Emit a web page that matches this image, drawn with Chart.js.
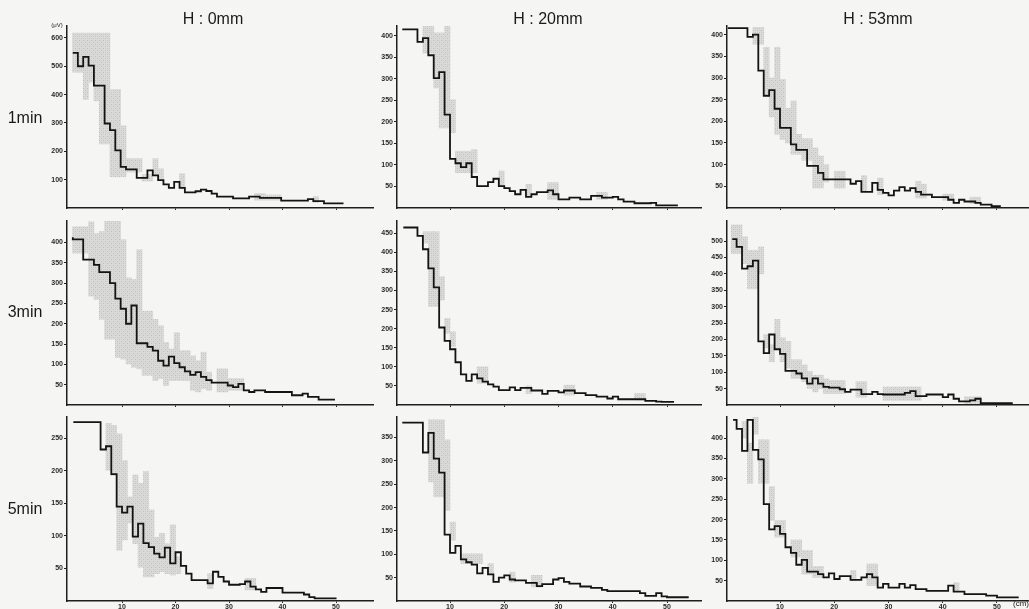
<!DOCTYPE html>
<html><head><meta charset="utf-8">
<script src="https://cdn.jsdelivr.net/npm/chart.js@4.4.0/dist/chart.umd.min.js"></script>
<style>
html,body{margin:0;padding:0;}
body{background:#f5f5f4;width:1029px;height:609px;overflow:hidden;position:relative;font-family:'Liberation Sans',Arial,sans-serif;color:#1a1a1a;}
canvas{position:absolute;}
.lbl{position:absolute;white-space:nowrap;transform:translate(-50%,-50%);}
</style></head><body>
<script>
// ---------- DATA ----------
const colTitles = ['H : 0mm', 'H : 20mm', 'H : 53mm'];
const rowLabels = ['1min', '3min', '5min'];
const xTickVals = [10, 20, 30, 40, 50];
// range arrays: [first bin edge, line start, line end]  (cm)
const p11Range = [0.75, 0.8, 51.4];
const p11Val = [547,547,500,533,502,432,432,298,275,203,145,136,136,106,106,133,115,98,83,71,92,71,55,55,59,65,60,51,40,40,40,34,34,34,40,40,36,36,36,36,26,26,26,26,26,31,24,24,16,16,16];
const p11Band = [[479,617],[479,617],[383,617],[444,617],[378,617],[226,617],[226,617],[110,418],[110,418],[110,290],[127,174],[127,174],[127,174],[95,118],[95,118],[115,174],[104,138],null,null,null,[69,121],null,null,null,null,null,null,null,null,null,null,null,null,null,[28,51],[28,51],[28,46],[28,46],[28,46],null,null,null,null,null,null,[20,40],null,null,null,null,null];
const p11YTicks = [100,200,300,400,500,600];

const p12Range = [1, 1.2, 52];
const p12Val = [415,415,415,415,386,395,355,302,316,217,114,104,95,104,72,51,51,60,68,51,46,39,32,42,26,32,37,37,41,32,20,20,24,24,20,20,28,28,24,24,26,20,15,15,11,11,11,12,6,6,6];
const p12Band = [null,null,null,null,[360,422],[360,422],[279,407],[186,407],[186,437],[175,252],[82,132],[82,132],[82,132],[82,136],null,null,null,null,[51,86],null,null,null,null,[28,55],null,null,null,[20,59],[20,59],null,null,null,null,null,null,null,[20,36],[20,36],null,null,null,null,null,null,null,null,null,null,null,null,null];
const p12YTicks = [50,100,150,200,250,300,350,400];

const p13Range = [0, 0.4, 50.7];
const p13Val = [415,415,415,415,415,395,400,317,259,272,229,185,185,147,134,134,97,97,81,66,66,66,66,66,56,62,37,37,58,42,35,29,40,48,40,46,37,31,31,25,25,25,19,12,19,15,15,12,8,8,4];
const p13Band = [null,null,null,null,null,[378,417],[378,417],[263,371],[210,300],[170,371],[158,297],[150,230],[124,247],[124,170],[110,160],[110,160],[46,139],[46,120],[60,100],null,[46,85],[46,85],null,null,null,[40,75],null,null,[31,69],null,null,null,null,null,null,[23,62],[23,55],null,null,null,[18,32],[18,32],null,null,null,[10,25],[10,25],null,null,null,null];
const p13YTicks = [50,100,150,200,250,300,350,400];

const p21Range = [0.75, 0.8, 49.8];
const p21Val = [413,408,408,358,358,345,327,327,300,262,237,200,245,152,152,143,134,109,97,119,103,93,83,74,81,69,61,55,55,55,48,44,52,36,32,36,36,32,32,32,32,32,24,24,28,20,20,13,13];
const p21Band = [[374,439],[374,439],[374,439],[268,451],[260,422],[211,427],[162,466],[162,466],[117,455],[113,407],[101,313],[93,309],[89,382],[73,231],[73,231],[60,211],[65,195],[48,154],[60,138],[60,178],[60,134],[60,134],[36,121],[32,109],[40,130],[36,81],null,[32,89],[32,89],[36,65],[36,65],[36,65],null,null,null,null,null,null,null,null,null,null,null,null,null,null,null,null,null];
const p21YTicks = [50,100,150,200,250,300,350,400];

const p22Range = [1, 1.4, 51.3];
const p22Val = [465,465,465,465,443,408,358,308,203,168,146,112,80,63,80,70,61,54,48,39,39,46,39,45,45,38,38,29,37,37,33,38,38,31,31,26,26,22,22,17,22,15,15,15,15,15,11,11,9,8,8];
const p22Band = [null,null,null,null,[424,454],[258,454],[258,454],[275,336],[188,227],[153,192],null,null,null,null,[57,100],[57,100],null,null,null,null,null,null,null,[30,50],null,null,null,null,null,null,[26,52],[26,52],null,null,null,null,null,null,null,null,null,null,null,[13,30],[13,30],null,null,null,null,null,null];
const p22YTicks = [50,100,150,200,250,300,350,400,450];

const p23Range = [1, 1.2, 52.9];
const p23Val = [506,506,482,416,423,440,194,158,215,170,156,104,104,96,81,65,81,65,55,53,53,48,40,47,47,33,33,40,33,32,32,32,32,37,42,27,27,32,32,32,24,32,19,11,11,14,19,6,6,6,6,6];
const p23Band = [[462,549],[462,549],[431,513],[354,472],[354,472],[400,482],[174,215],[132,184],[174,261],[132,205],[112,194],[81,138],[81,138],[71,122],[50,102],[40,91],[50,91],[35,80],[35,75],[35,75],[35,75],null,null,[24,71],[24,71],null,null,null,[14,55],[14,55],[14,55],[14,55],[14,55],[14,55],[14,55],null,null,null,null,null,null,null,null,[5,25],[5,25],[5,25],null,null,null,null,null,null];
const p23YTicks = [50,100,150,200,250,300,350,400,450,500];

const p31Range = [0, 0.9, 50.1];
const p31Val = [275,275,275,275,275,275,275,233,238,195,145,136,145,99,119,89,83,73,67,82,58,75,54,42,32,32,32,27,45,37,30,25,25,26,30,22,18,14,20,20,20,13,13,13,13,10,6,4,4,4];
const p31Band = [null,null,null,null,null,null,null,[201,273],[193,270],[78,257],[94,216],[120,160],[88,194],[52,181],[37,199],[37,140],[42,98],[45,104],[42,88],[40,117],[42,68],null,null,null,null,null,[19,42],null,null,null,null,null,null,[17,35],[17,35],null,null,null,null,null,null,null,null,null,null,null,null,null,null,null];
const p31YTicks = [50,100,150,200,250];

const p32Range = [1, 1.2, 54];
const p32Val = [382,382,382,382,382,318,360,305,275,142,103,118,89,83,78,59,71,57,41,50,55,46,44,44,39,39,32,36,36,46,49,41,37,37,31,31,28,28,24,21,21,21,21,21,21,17,11,11,17,10,8,8,8];
const p32Band = [null,null,null,null,null,[255,388],[223,388],[223,388],[194,345],[130,169],null,[80,101],[80,101],[80,101],[80,101],null,[58,80],null,null,null,[40,62],null,null,null,[30,55],[30,55],null,null,null,null,null,null,null,null,null,null,null,null,null,null,null,null,null,null,null,null,null,null,null,null,null,null,null];
const p32YTicks = [50,100,150,200,250,300,350];

const p33Range = [1, 1.35, 54];
const p33Val = [445,445,423,369,445,371,348,238,176,184,165,132,118,89,101,72,72,66,58,68,54,61,61,52,52,58,66,58,33,42,33,33,42,33,39,29,29,25,25,25,25,38,23,23,17,17,17,17,13,13,9,9,9];
const p33Band = [null,null,[400,441],[289,388],[410,451],[289,396],[289,396],[198,281],[157,198],[157,198],null,[108,150],[108,150],[66,124],[66,124],[58,85],[58,85],null,null,null,null,null,[50,75],null,null,[38,91],[38,91],null,null,null,null,null,null,null,null,null,null,null,null,null,null,[25,45],null,null,null,null,null,null,null,null,null,null,null];
const p33YTicks = [50,100,150,200,250,300,350,400];

// ---------- LAYOUT ----------
const colL = [67, 397, 727], colR = [374, 702, 1029];
const colXmin = [-0.28, 0.23, 0.23], colXmax = [57.1, 56.45, 55.9];
const rowT = [26, 221, 417], rowB = [208, 405, 601];
const panelYmax = [642, 423, 420, 453, 482, 561, 283, 394, 452];

const panels = [
  [p11Val, p11Band, p11Range, p11YTicks], [p12Val, p12Band, p12Range, p12YTicks], [p13Val, p13Band, p13Range, p13YTicks],
  [p21Val, p21Band, p21Range, p21YTicks], [p22Val, p22Band, p22Range, p22YTicks], [p23Val, p23Band, p23Range, p23YTicks],
  [p31Val, p31Band, p31Range, p31YTicks], [p32Val, p32Band, p32Range, p32YTicks], [p33Val, p33Band, p33Range, p33YTicks]
];

function stepPoints(vals, rng) {
  const base = rng[0], start = rng[1], end = rng[2];
  const pts = vals.map((v, i) => ({x: i === 0 ? start : base + i, y: v}));
  pts.push({x: end, y: vals[vals.length - 1]});
  return pts;
}
function bandBars(band, rng) {
  return band.map((b, i) => ({x: rng[0] + i + 0.5, y: b ? b : null}));
}
function makePattern() {
  const c = document.createElement('canvas'); c.width = 4; c.height = 4;
  const g = c.getContext('2d');
  g.fillStyle = '#dadad9'; g.fillRect(0, 0, 4, 4);
  g.fillStyle = '#c2c2c1'; g.fillRect(0, 0, 1, 1); g.fillRect(2, 2, 1, 1);
  g.fillStyle = '#cfcfce'; g.fillRect(2, 0, 1, 1); g.fillRect(0, 2, 1, 1);
  return g.createPattern(c, 'repeat');
}
const bandFill = makePattern();

const YW = 40, PT = 6;
const tickFont = {family: "'Liberation Sans', Arial, sans-serif", size: 7, weight: 'bold'};

panels.forEach((p, idx) => {
  const r = Math.floor(idx / 3), c = idx % 3;
  const XH = r === 2 ? 14 : 8;
  const left = colL[c] - YW, top = rowT[r] - PT;
  const w = colR[c] - left, h = rowB[r] + XH - top;
  const cv = document.createElement('canvas');
  cv.width = w; cv.height = h;
  cv.style.left = left + 'px'; cv.style.top = top + 'px';
  cv.style.width = w + 'px'; cv.style.height = h + 'px';
  document.body.appendChild(cv);
  const yTicks = p[3];
  new Chart(cv, {
    type: 'line',
    data: {
      datasets: [
        {type: 'line', data: stepPoints(p[0], p[2]), stepped: 'after', borderColor: '#141414', borderWidth: 1.8,
         pointRadius: 0, fill: false, order: 0},
        {type: 'bar', data: bandBars(p[1], p[2]), backgroundColor: bandFill, borderWidth: 0,
         barPercentage: 1, categoryPercentage: 1, order: 1}
      ]
    },
    options: {
      responsive: false, animation: false, devicePixelRatio: 1,
      layout: {padding: {top: PT, right: 0, bottom: 0, left: 0}},
      plugins: {legend: {display: false}, tooltip: {enabled: false}},
      scales: {
        x: {
          type: 'linear', min: colXmin[c], max: colXmax[c], offset: false,
          afterBuildTicks: s => { s.ticks = xTickVals.map(v => ({value: v})); },
          afterFit: s => { s.height = XH; },
          grid: {display: true, drawOnChartArea: false, drawTicks: true, tickLength: 2, color: '#222', offset: false},
          border: {display: true, color: '#1e1e1e', width: 1.5},
          ticks: {display: r === 2, font: tickFont, color: '#2a2a2a', padding: 0, maxRotation: 0, autoSkip: false}
        },
        y: {
          type: 'linear', min: 0, max: panelYmax[idx],
          afterBuildTicks: s => { s.ticks = yTicks.map(v => ({value: v})); },
          afterFit: s => { s.width = YW; },
          grid: {display: true, drawOnChartArea: false, drawTicks: true, tickLength: 3, color: '#222'},
          border: {display: true, color: '#1e1e1e', width: 1.5},
          ticks: {font: tickFont, color: '#2a2a2a', padding: 1, autoSkip: false}
        }
      }
    }
  });
});

// ---------- TEXT ----------
function addText(txt, x, y, size, extra) {
  const d = document.createElement('div');
  d.className = 'lbl'; d.textContent = txt;
  d.style.left = x + 'px'; d.style.top = y + 'px'; d.style.fontSize = size + 'px';
  if (extra) Object.assign(d.style, extra);
  document.body.appendChild(d);
}
const titleX = [213, 548, 878];
colTitles.forEach((t, i) => addText(t, titleX[i], 19, 16));
const rowY = [118, 312, 509];
rowLabels.forEach((t, i) => addText(t, 25, rowY[i], 16));
addText('(μV)', 57, 25, 6);
addText('(cm)', 1022, 603, 8, {transform: 'translate(0,-50%)', left: '1013px'});
</script>
</body></html>
